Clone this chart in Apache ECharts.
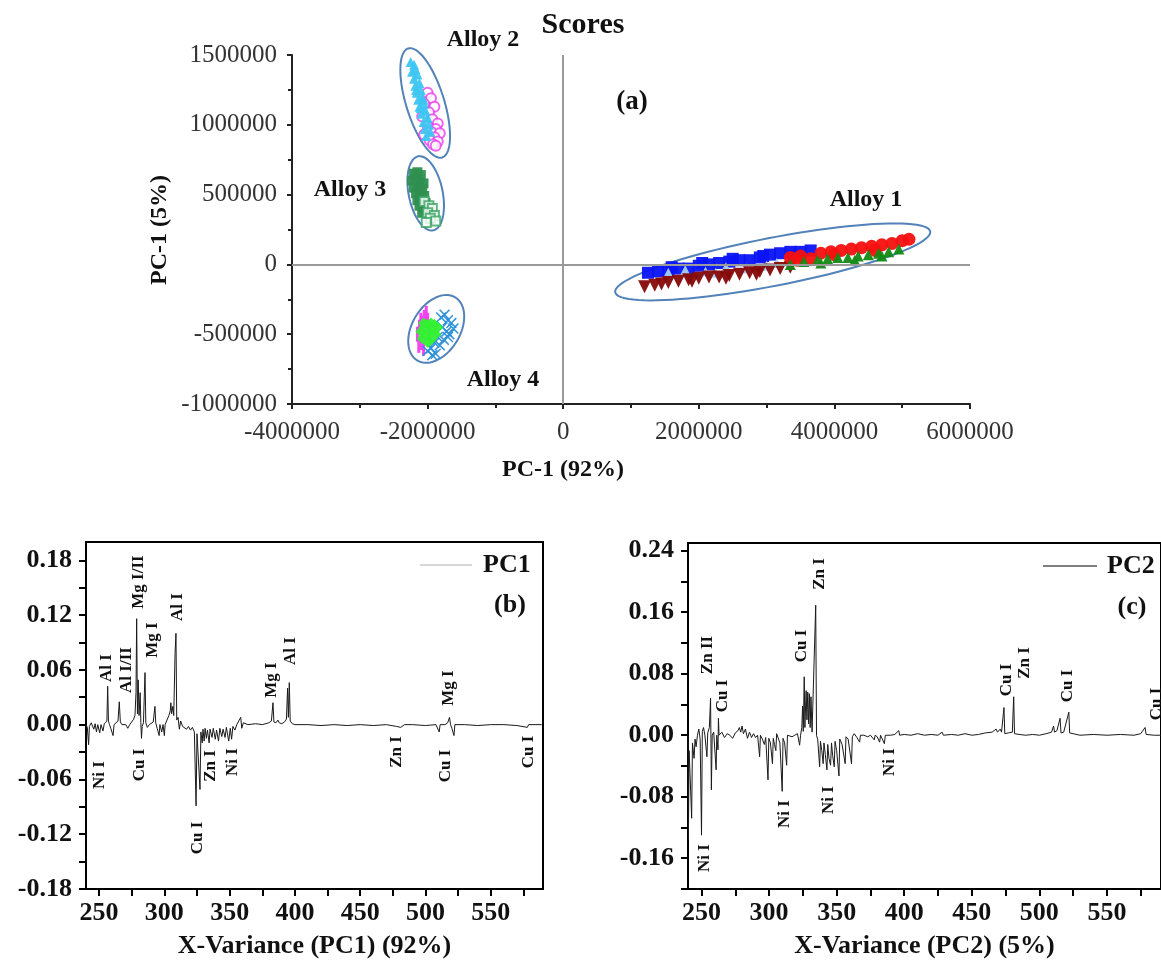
<!DOCTYPE html>
<html>
<head>
<meta charset="utf-8">
<script src="https://cdn.jsdelivr.net/npm/echarts@6/dist/echarts.min.js"></script>
<style>html,body{margin:0;padding:0;background:#fff}#c{width:1161px;height:967px}</style>
</head>
<body>
<div id="c"></div>
<script>
// ---------- Scores (a) ----------
const scoreXTicks = [-4000000, -2000000, 0, 2000000, 4000000, 6000000];
const scoreYTicks = [-1000000, -500000, 0, 500000, 1000000, 1500000];

const a2CyanX = [-2250000,-2200000,-2180000,-2230000,-2150000,-2200000,-2120000,-2180000,-2100000,-2160000,-2080000,-2140000,-2050000,-2120000,-2030000,-2090000,-2000000,-2060000,-1980000,-2040000,-1960000,-2020000,-2100000,-2170000,-2060000];
const a2CyanY = [1450000,1430000,1400000,1380000,1360000,1330000,1300000,1280000,1250000,1230000,1200000,1180000,1150000,1130000,1100000,1080000,1050000,1020000,1000000,970000,950000,920000,1120000,1250000,1180000];
const a2MagX = [-2000000,-1950000,-2050000,-1900000,-1980000,-2080000,-1930000,-1850000,-2000000,-1880000,-1950000,-2050000,-1820000,-1900000,-1970000,-1850000,-1920000,-1880000];
const a2MagY = [1230000,1190000,1150000,1130000,1090000,1060000,1040000,1010000,990000,970000,950000,930000,940000,910000,890000,880000,860000,850000];

const a3DarkX = [-2200000,-2150000,-2100000,-2230000,-2180000,-2120000,-2060000,-2200000,-2140000,-2080000,-2170000,-2110000,-2050000,-2150000,-2090000,-2030000,-2120000,-2060000,-2000000,-2080000];
const a3DarkY = [650000,660000,640000,600000,610000,590000,580000,550000,560000,540000,510000,500000,490000,460000,450000,440000,420000,400000,390000,370000];
const a3LightX = [-2050000,-1980000,-1930000,-2000000,-1900000,-1960000,-1880000,-2020000];
const a3LightY = [450000,420000,400000,370000,350000,330000,310000,300000];

const a4MagX = [-2150000,-2120000,-2100000,-2080000,-2050000,-2020000,-2000000,-2130000,-2090000,-2060000,-1980000];
const a4MagY = [-500000,-450000,-400000,-420000,-380000,-350000,-400000,-580000,-560000,-600000,-480000];
const a4LimeX = [-2100000,-2050000,-2000000,-1950000,-1900000,-1850000,-2080000,-2020000,-1970000,-1920000,-1880000,-2000000,-1950000,-2060000];
const a4LimeY = [-480000,-450000,-430000,-420000,-430000,-450000,-530000,-510000,-490000,-470000,-500000,-560000,-540000,-420000];
const a4BlueX = [-1800000,-1750000,-1700000,-1650000,-1620000,-1780000,-1720000,-1680000,-1850000,-1900000,-1950000,-2000000,-1820000,-1760000,-1700000,-1880000,-1930000];
const a4BlueY = [-380000,-360000,-400000,-420000,-460000,-450000,-480000,-500000,-520000,-560000,-600000,-620000,-580000,-540000,-520000,-640000,-650000];

const a1BlueX = [1250000,1400000,1550000,1700000,1850000,2000000,2150000,2300000,2450000,2600000,2750000,2900000,3050000,3200000,3350000,3500000,3650000,1600000,2050000,2500000,2950000,3400000];
const a1BlueY = [-60000,-50000,-40000,-30000,-30000,-10000,0,10000,20000,30000,30000,50000,70000,80000,90000,90000,100000,-20000,10000,40000,60000,60000];
const a1DarkRedX = [1200000,1350000,1550000,1700000,1850000,2000000,2150000,2300000,2450000,2600000,2750000,2900000,3050000,3200000,3350000,1450000,1900000,2400000,2850000];
const a1DarkRedY = [-160000,-150000,-130000,-120000,-110000,-100000,-90000,-90000,-80000,-70000,-60000,-50000,-40000,-30000,-20000,-140000,-120000,-100000,-70000];
const a1LightBlueX = [1550000,1800000,2100000,2400000,2700000,3000000,3150000,2250000];
const a1LightBlueY = [-60000,-40000,-50000,-20000,-30000,-10000,10000,-60000];
const a1RedX = [3350000,3500000,3650000,3800000,3950000,4100000,4250000,4400000,4550000,4700000,4850000,5000000,5100000,3450000,4000000,4600000];
const a1RedY = [50000,60000,40000,80000,90000,100000,110000,120000,130000,140000,150000,170000,180000,30000,70000,100000];
const a1GreenX = [3350000,3550000,3750000,3900000,4050000,4200000,4350000,4500000,4650000,4800000,4950000,3800000,4300000,4700000];
const a1GreenY = [0,20000,30000,40000,50000,50000,60000,70000,80000,90000,110000,10000,30000,60000];

// cluster outlines: major-axis end points in data units
const ellipseNames = ['Alloy 1', 'Alloy 2', 'Alloy 3', 'Alloy 4'];
const ellipseX1 = [767000, -2286000, -2139000, -1593000];
const ellipseY1 = [-200000, 1547000, 774000, -236000];
const ellipseX2 = [5413000, -1785000, -1917000, -2153000];
const ellipseY2 = [236000, 766000, 244000, -688000];

// ---------- Loadings (b) PC1 ----------
const specXTicks = [250,275,300,325,350,375,400,425,450,475,500,525,550,575];
const specXLabels = [250,300,350,400,450,500,550];
const pc1YTicks = [-0.18,-0.15,-0.12,-0.09,-0.06,-0.03,0,0.03,0.06,0.09,0.12,0.15,0.18];
const pc1YLabels = [-0.18,-0.12,-0.06,0,0.06,0.12,0.18];
const pc1Wl = [240,241,242,242.6,244,246,247,248,249,250.5,251.5,253,254,255,256,256.6,257.2,258,259,260.7,261.5,263,264.5,265.5,266.3,267.5,269,270.5,272,273.5,275,276.5,277.5,278.3,278.8,279.4,280,280.6,281.5,282,282.5,283,284,285.2,285.8,287,288.5,290,291.5,292.8,293.4,294.5,296,296.6,298,299,300,300.6,302,303.5,304.5,305,305.6,306.5,307.2,308.2,308.9,309.5,310.5,311.5,312.5,314,315.5,317,318.5,320,321.5,323,324.3,325,326.5,327.3,328,329,329.6,330.5,331.2,332.2,333,334.3,335,336.5,337.5,339,340,341.5,342.5,344,345,346.5,347.5,349.3,350.5,351.5,352.5,354,355.5,357,358.5,359.3,360.5,362,364,370,375,380,382,383.2,383.9,385.5,387,388,390,392,393.5,394.4,395,395.7,396.4,398,400,410,420,430,440,450,460,470,478,481,484,490,500,508,510.5,511.2,515,517,518.4,519.2,520.2,521.8,522.5,530,540,550,560,570,578,579,589];
const pc1Val = [0,-0.003,-0.022,-0.002,0.002,-0.005,0.001,-0.008,0,-0.009,0,-0.007,0.001,0.002,0.004,0.042,0.004,0,-0.004,-0.012,0,0.002,0.004,0.025,0.003,0,-0.002,0,-0.004,0,0.002,0.006,0.01,0.035,0.116,0.012,0.049,0.01,0.035,0.002,-0.015,-0.002,0.002,0.057,0.002,-0.003,0,-0.002,0.003,0.02,0.002,-0.004,-0.012,0,-0.008,0,-0.012,0,0.005,0.01,0.015,0.024,0.012,0.02,0.01,0.078,0.1,0.005,0.008,-0.005,0.004,-0.002,0,-0.005,-0.002,-0.006,-0.003,-0.008,-0.089,-0.01,-0.012,-0.071,-0.008,-0.02,-0.005,-0.018,-0.004,-0.015,-0.006,-0.02,-0.005,-0.014,-0.004,-0.016,-0.006,-0.018,-0.004,-0.013,-0.005,-0.014,-0.003,-0.018,-0.004,-0.016,-0.002,-0.006,0,0.002,0.008,-0.004,0.002,0.001,0,0.001,0,0.002,0.004,0.024,0.003,0.002,0.005,0.002,0.001,0.003,0.006,0.04,0.008,0.046,0.004,0.001,0,0,-0.001,0,-0.001,0,-0.001,0,-0.002,-0.003,0,0,-0.001,0,-0.008,0,0,0.002,0.008,0,-0.004,-0.012,0,0,-0.001,0,0,-0.001,-0.003,0,0];

// ---------- Loadings (c) PC2 ----------
const pc2YTicks = [-0.2,-0.16,-0.12,-0.08,-0.04,0,0.04,0.08,0.12,0.16,0.2,0.24];
const pc2YLabels = [-0.16,-0.08,0,0.08,0.16,0.24];
const pc2Wl = [240,240.3,240.8,241.5,242.7,243.3,244.5,245.2,246,247,248,249,250,250.6,251.5,252.5,254,254.6,255.8,256.7,257.3,257.9,259,260.8,261.3,262.2,262.5,263,265,267,269,271,273,275,277,278,279,280,281,282.5,284,285.5,287,288.5,290,291.5,293,293.6,295,296.5,297.5,299.2,299.8,301,302.5,303.1,304,305,305.6,307,308,309.7,310.3,311.5,313,313.6,315,317,319,321,322.6,323.3,324.2,324.8,325.3,326,326.5,327.4,328,328.6,329.2,329.8,330.4,331,331.8,333,334.5,335.1,336,337.4,338,339,340,340.6,341.6,342.8,343.4,344.3,345.5,346.2,347,348.2,348.8,350,351.7,352.3,354,356.3,356.9,358.5,361,361.6,363,365,367,367.6,370,373,375,377.8,378.5,380,381.8,382.5,385.3,386,390,393,396,396.6,400,405,410,415,420,425,428,429,435,440,445,450,455,460,465,468,469,471,472,473.8,474.4,477,480,481,481.6,485,490,495,500,505,509,510.5,511.2,513,515.3,516,518,521.8,522.4,525,530,540,550,560,570,575,578.2,579,585,590];
const pc2Val = [0,-0.136,-0.02,-0.05,-0.108,-0.01,-0.03,-0.005,-0.015,0,0.008,-0.005,-0.13,0.005,0.01,0,-0.028,0.003,0.01,0.048,-0.071,0,0.004,-0.045,0,-0.019,0.022,0,0.004,-0.003,0.002,0,-0.004,0.003,0.006,0.01,0.004,0.012,0.002,0.008,-0.004,0.004,-0.003,0.002,-0.003,0,-0.028,0,-0.005,-0.012,-0.003,-0.058,-0.004,-0.01,-0.037,-0.004,-0.012,-0.02,0.002,0.004,-0.01,-0.073,-0.004,-0.01,-0.039,0,0.002,-0.002,0,0.002,-0.013,0,0.01,0.038,0.005,0.076,0.01,0.058,0.02,0.056,0.015,0.054,0.01,0.05,0.004,0.004,0.169,0,-0.006,-0.041,-0.008,-0.02,-0.037,-0.01,-0.025,-0.045,-0.012,-0.03,-0.039,-0.01,-0.026,-0.041,-0.008,-0.02,-0.053,-0.005,-0.012,-0.037,-0.002,-0.005,-0.037,-0.002,0.002,-0.003,-0.009,0,0,-0.002,0,-0.006,0,-0.002,-0.009,0,-0.011,0,0,0.001,0.006,0,0.001,0,0.002,0,0.001,0,0.004,0,0.001,0,0.002,0,0.001,0.003,0.004,0.008,0.004,0.008,0.004,0.036,0.002,0.003,0.004,0.05,0.002,0.001,0,0.001,0,0.002,0.004,0.012,0.004,0.006,0.022,0.003,0.004,0.03,0.003,0.002,0,0.001,0,0.001,0,0.002,0.01,0.001,0,0];

// ---------- render ----------
const SERIF = "'Liberation Serif','Times New Roman',serif";
const zip = (xs, ys) => xs.map((v, i) => [v, ys[i]]);
const chart = echarts.init(document.getElementById('c'), null, {renderer: 'canvas'});

function sct(name, xs, ys, symbol, size, color, extra) {
  return Object.assign({
    type: 'scatter', name, xAxisIndex: 0, yAxisIndex: 0, data: zip(xs, ys),
    symbol, symbolSize: size, itemStyle: {color, opacity: 0.95}, silent: true
  }, extra || {});
}

const crossPath = 'path://M0,1 L1,0 L5,4 L9,0 L10,1 L6,5 L10,9 L9,10 L5,6 L1,10 L0,9 L4,5 Z';

function specAxisX(gi, name) {
  return {
    type: 'value', gridIndex: gi, min: 240, max: 590,
    name, nameLocation: 'middle', nameGap: 44,
    nameTextStyle: {fontFamily: SERIF, fontWeight: 'bold', fontSize: 26, color: '#111'},
    axisLine: {onZero: false, lineStyle: {color: '#000', width: 2}},
    axisTick: {customValues: specXTicks, length: 7, lineStyle: {color: '#000', width: 2}},
    axisLabel: {customValues: specXLabels, margin: 11, fontFamily: SERIF, fontWeight: 'bold', fontSize: 26, color: '#111'},
    splitLine: {show: false}
  };
}
function specAxisY(gi, mn, mx, ticks, labels) {
  return {
    type: 'value', gridIndex: gi, min: mn, max: mx,
    axisLine: {onZero: false, lineStyle: {color: '#000', width: 2}},
    axisTick: {customValues: ticks, length: 7, lineStyle: {color: '#000', width: 2}},
    axisLabel: {customValues: labels, margin: 14, fontFamily: SERIF, fontWeight: 'bold', fontSize: 26, color: '#111',
      formatter: v => (Math.abs(v) < 1e-9 ? 0 : v).toFixed(2)},
    splitLine: {show: false}
  };
}

function vlab(text, x, y) {
  return {type: 'text', x, y, rotation: Math.PI / 2,
    style: {text, fontFamily: SERIF, fontWeight: 'bold', fontSize: 17, fill: '#111', align: 'center', verticalAlign: 'middle'}};
}
function hlab(text, x, y, size, extra) {
  return Object.assign({type: 'text', x, y,
    style: {text, fontFamily: SERIF, fontWeight: 'bold', fontSize: size, fill: '#111', align: 'center', verticalAlign: 'middle'}}, extra || {});
}

const option = {
  animation: false,
  backgroundColor: '#fff',
  grid: [
    {left: 292, top: 55, width: 678, height: 349},
    {left: 86, top: 542, width: 457, height: 347, show: true, borderColor: '#000', borderWidth: 2, backgroundColor: 'transparent'},
    {left: 688, top: 543, width: 483, height: 346, show: true, borderColor: '#000', borderWidth: 2, backgroundColor: 'transparent'}
  ],
  xAxis: [
    {type: 'value', gridIndex: 0, min: -4000000, max: 6000000, interval: 2000000,
      axisLine: {onZero: false, lineStyle: {color: '#222', width: 2}},
      axisTick: {length: 5, lineStyle: {color: '#222', width: 2}},
      minorTick: {show: true, splitNumber: 2, length: 4, lineStyle: {color: '#222', width: 2}},
      axisLabel: {margin: 16, fontFamily: SERIF, fontSize: 25, color: '#333', formatter: v => String(v)},
      splitLine: {show: false}},
    specAxisX(1, 'X-Variance (PC1) (92%)'),
    specAxisX(2, 'X-Variance (PC2) (5%)')
  ],
  yAxis: [
    {type: 'value', gridIndex: 0, min: -1000000, max: 1500000, interval: 500000,
      axisLine: {onZero: false, lineStyle: {color: '#222', width: 2}},
      axisTick: {length: 5, lineStyle: {color: '#222', width: 2}},
      minorTick: {show: true, splitNumber: 2, length: 4, lineStyle: {color: '#222', width: 2}},
      axisLabel: {margin: 15, fontFamily: SERIF, fontSize: 25, color: '#333', formatter: v => String(v)},
      splitLine: {show: false}},
    specAxisY(1, -0.18, 0.2, pc1YTicks, pc1YLabels),
    specAxisY(2, -0.2, 0.25, pc2YTicks, pc2YLabels)
  ],
  series: [
    {type: 'line', xAxisIndex: 0, yAxisIndex: 0, data: [], silent: true,
      markLine: {silent: true, symbol: 'none', label: {show: false},
        lineStyle: {color: '#9a9a9a', width: 2, type: 'solid'},
        data: [{xAxis: 0}, {yAxis: 0}]}},
    sct('Alloy 2 a', a2MagX, a2MagY, 'emptyCircle', 10, '#e83cf0', {itemStyle: {color: '#e83cf0', borderWidth: 2}}),
    sct('Alloy 2 b', a2CyanX, a2CyanY, 'triangle', 10, '#3ec6f2'),
    sct('Alloy 3 a', a3DarkX, a3DarkY, 'rect', 10, '#2f8f50'),
    sct('Alloy 3 b', a3LightX, a3LightY, 'emptyRect', 9, '#3aa463', {itemStyle: {color: '#3aa463', borderWidth: 1.5}}),
    sct('Alloy 4 a', a4MagX, a4MagY, 'rect', [3, 15], '#f23cf2'),
    sct('Alloy 4 b', a4BlueX, a4BlueY, crossPath, 11, '#2a90d8'),
    sct('Alloy 4 c', a4LimeX, a4LimeY, 'diamond', 11, '#33f033'),
    sct('Alloy 1 a', a1BlueX, a1BlueY, 'rect', 12, '#0a14f5'),
    sct('Alloy 1 b', a1LightBlueX, a1LightBlueY, 'triangle', 10, '#a6cdee'),
    sct('Alloy 1 c', a1DarkRedX, a1DarkRedY, 'triangle', 13, '#850808', {symbolRotate: 180}),
    sct('Alloy 1 d', a1RedX, a1RedY, 'circle', 13, '#f51010'),
    sct('Alloy 1 e', a1GreenX, a1GreenY, 'triangle', 11, '#138a13'),
    {type: 'custom', name: 'clusters', xAxisIndex: 0, yAxisIndex: 0, silent: true, clip: false,
      data: ellipseNames.map((n, i) => [ellipseX1[i], ellipseY1[i], ellipseX2[i], ellipseY2[i]]),
      renderItem: (params, api) => {
        const halfMinor = [24, 19, 17, 24][params.dataIndex];
        const p1 = api.coord([api.value(0), api.value(1)]);
        const p2 = api.coord([api.value(2), api.value(3)]);
        const cx = (p1[0] + p2[0]) / 2, cy = (p1[1] + p2[1]) / 2;
        const a = Math.hypot(p2[0] - p1[0], p2[1] - p1[1]) / 2;
        const th = Math.atan2(p2[1] - p1[1], p2[0] - p1[0]);
        const pts = [];
        for (let k = 0; k < 96; k++) {
          const t = k / 96 * Math.PI * 2;
          pts.push([cx + a * Math.cos(t) * Math.cos(th) - halfMinor * Math.sin(t) * Math.sin(th),
                    cy + a * Math.cos(t) * Math.sin(th) + halfMinor * Math.sin(t) * Math.cos(th)]);
        }
        return {type: 'polygon', shape: {points: pts}, style: {fill: 'none', stroke: '#5282b8', lineWidth: 2}};
      }},
    {type: 'line', name: 'PC1', xAxisIndex: 1, yAxisIndex: 1, data: zip(pc1Wl, pc1Val), showSymbol: false, symbol: 'none',
      lineStyle: {color: '#1a1a1a', width: 1}, silent: true},
    {type: 'line', name: 'PC2', xAxisIndex: 2, yAxisIndex: 2, data: zip(pc2Wl, pc2Val), showSymbol: false, symbol: 'none',
      lineStyle: {color: '#1a1a1a', width: 1}, silent: true}
  ],
  graphic: [
    hlab('Scores', 583, 25, 30),
    hlab('(a)', 632, 102, 27),
    hlab('Alloy 2', 483, 40, 24),
    hlab('Alloy 3', 350, 190, 24),
    hlab('Alloy 1', 866, 200, 24),
    hlab('Alloy 4', 503, 380, 24),
    hlab('PC-1 (92%)', 563, 470, 24),
    hlab('PC-1 (5%)', 160, 230, 24, {rotation: Math.PI / 2}),
    // (b) legend
    {type: 'line', shape: {x1: 420, y1: 565, x2: 472, y2: 565}, style: {stroke: '#c8c8c8', lineWidth: 1.5}},
    {type: 'text', x: 483, y: 565, style: {text: 'PC1', fontFamily: SERIF, fontWeight: 'bold', fontSize: 26, fill: '#111', align: 'left', verticalAlign: 'middle'}},
    hlab('(b)', 510, 605, 26),
    // (b) peak labels
    vlab('Al I', 107, 668), vlab('Al I/II', 127, 670), vlab('Mg I/II', 139, 582), vlab('Mg I', 153, 640),
    vlab('Al I', 178, 607), vlab('Mg I', 272, 680), vlab('Al I', 291, 651), vlab('Mg I', 449, 688),
    vlab('Ni I', 100, 775), vlab('Cu I', 140, 765), vlab('Cu I', 198, 838), vlab('Zn I', 211, 766),
    vlab('Ni I', 233, 762), vlab('Zn I', 397, 752), vlab('Cu I', 446, 766), vlab('Cu I', 529, 752),
    // (c) legend
    {type: 'line', shape: {x1: 1043, y1: 566, x2: 1097, y2: 566}, style: {stroke: '#555', lineWidth: 1.5}},
    {type: 'text', x: 1107, y: 566, style: {text: 'PC2', fontFamily: SERIF, fontWeight: 'bold', fontSize: 26, fill: '#111', align: 'left', verticalAlign: 'middle'}},
    hlab('(c)', 1132, 607, 26),
    // (c) peak labels
    vlab('Zn II', 708, 655), vlab('Cu I', 723, 696), vlab('Cu I', 802, 646), vlab('Zn I', 820, 574),
    vlab('Cu I', 1007, 680), vlab('Zn I', 1025, 663), vlab('Cu I', 1068, 686), vlab('Cu I', 1157, 704),
    vlab('Ni I', 705, 858), vlab('Ni I', 785, 814), vlab('Ni I', 829, 800), vlab('Ni I', 890, 762)
  ]
};
chart.setOption(option);
</script>
</body>
</html>
